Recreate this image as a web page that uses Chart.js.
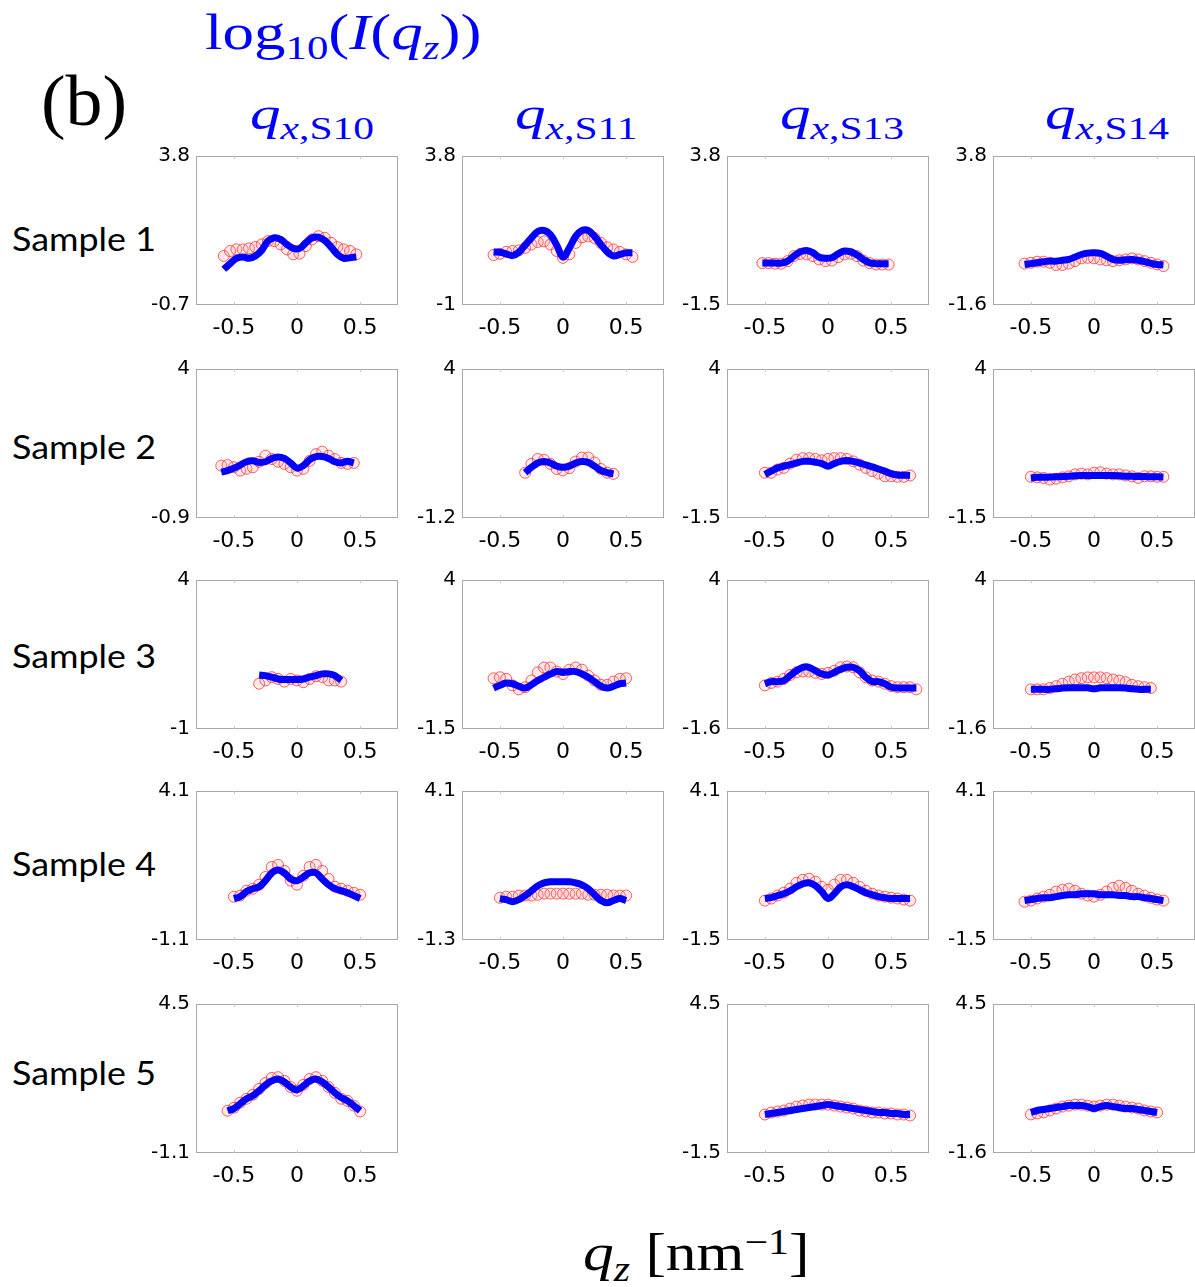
<!DOCTYPE html>
<html><head><meta charset="utf-8">
<script src="https://cdn.jsdelivr.net/npm/chart.js@4.4.0/dist/chart.umd.min.js"></script>
<style>
body{margin:0;width:1195px;height:1287px;background:#fff;position:relative;overflow:hidden;}
.t{position:absolute;white-space:nowrap;font-family:'Liberation Serif','DejaVu Serif',serif;line-height:1;transform-origin:0 0;}
.blue{color:#0000ff;}
.row{position:absolute;font-family:Lato,'Open Sans',sans-serif;font-size:32px;color:#000;white-space:nowrap;line-height:1;transform-origin:0 0;transform:scaleX(1.12);}
.panel{position:absolute;}
.sb{font-size:0.68em;position:relative;top:0.3em;}
.sp{font-size:0.68em;position:relative;top:-0.45em;}
</style></head><body>
<div class="t blue" style="left:205px;top:7px;font-size:50px;transform:scaleX(1.26);">log<span class="sb" style="font-style:normal">10</span>(<i>I</i>(<i>q</i><span class="sb"><i>z</i></span>))</div>
<div class="t" style="left:41px;top:66px;font-size:71px;transform:scaleX(1.04);">(b)</div>
<div class="t blue" style="left:250px;top:90px;font-size:47px;transform:scaleX(1.3);"><i>q</i><span class="sb"><i>x</i>,S10</span></div>
<div class="t blue" style="left:515px;top:90px;font-size:47px;transform:scaleX(1.3);"><i>q</i><span class="sb"><i>x</i>,S11</span></div>
<div class="t blue" style="left:780px;top:90px;font-size:47px;transform:scaleX(1.3);"><i>q</i><span class="sb"><i>x</i>,S13</span></div>
<div class="t blue" style="left:1045px;top:90px;font-size:47px;transform:scaleX(1.3);"><i>q</i><span class="sb"><i>x</i>,S14</span></div>
<div class="row" style="left:12px;top:223px;">Sample 1</div>
<div class="row" style="left:12px;top:431px;">Sample 2</div>
<div class="row" style="left:12px;top:640px;">Sample 3</div>
<div class="row" style="left:12px;top:848px;">Sample 4</div>
<div class="row" style="left:12px;top:1057px;">Sample 5</div>
<div class="t" style="left:583px;top:1226px;font-size:53px;transform:scaleX(1.16);"><i>q</i><span class="sb"><i>z</i></span> [nm<span class="sp">−1</span>]</div>
<script>
// ---- axis tick labels ----
const xTicks = [-0.5, 0, 0.5];
const yTop = [[3.8,3.8,3.8,3.8],[4,4,4,4],[4,4,4,4],[4.1,4.1,4.1,4.1],[4.5,null,4.5,4.5]];
const yBottom = [[-0.7,-1,-1.5,-1.6],[-0.9,-1.2,-1.5,-1.5],[-1,-1.5,-1.6,-1.6],[-1.1,-1.3,-1.5,-1.5],[-1.1,null,-1.5,-1.6]];

// ---- Sample 1 ----
const qz_1_10 = [-0.58,-0.53,-0.48,-0.43,-0.38,-0.33,-0.28,-0.23,-0.18,-0.13,-0.08,-0.03,0.02,0.07,0.12,0.17,0.22,0.27,0.32,0.37,0.42,0.47];
const fit_1_10 = [0.38,0.55,0.71,0.75,0.71,0.78,0.95,1.23,1.33,1.28,1.13,1.01,1.01,1.18,1.33,1.35,1.25,1.05,0.83,0.71,0.73,0.75];
const obs_1_10 = [0.78,0.93,0.98,0.98,1.01,1.05,1.13,1.23,1.23,1.13,0.98,0.83,0.85,1.08,1.28,1.38,1.33,1.18,1.05,0.98,0.93,0.83];
const qz_1_11 = [-0.55,-0.5,-0.45,-0.4,-0.35,-0.3,-0.25,-0.2,-0.15,-0.1,-0.05,0,0.05,0.1,0.15,0.2,0.25,0.3,0.35,0.4,0.45,0.5,0.55];
const fit_1_11 = [0.71,0.70,0.65,0.59,0.70,0.93,1.16,1.37,1.40,1.27,0.93,0.54,0.84,1.21,1.40,1.40,1.21,0.95,0.71,0.58,0.63,0.68,0.68];
const obs_1_11 = [0.61,0.65,0.71,0.74,0.76,0.84,0.95,1.03,1.05,0.95,0.74,0.52,0.63,1.00,1.18,1.21,1.16,1.00,0.86,0.79,0.71,0.63,0.55];
const qz_1_13 = [-0.52,-0.47,-0.42,-0.37,-0.32,-0.27,-0.22,-0.17,-0.12,-0.07,-0.02,0.03,0.08,0.13,0.18,0.23,0.28,0.33,0.38,0.43,0.48];
const fit_1_13 = [-0.01,-0.01,-0.01,-0.01,0.06,0.24,0.39,0.44,0.36,0.20,0.16,0.18,0.32,0.42,0.39,0.28,0.12,0.00,-0.03,-0.03,-0.03];
const obs_1_13 = [-0.01,-0.01,-0.03,-0.03,0.06,0.24,0.32,0.30,0.24,0.12,0.06,0.08,0.20,0.30,0.32,0.24,0.08,-0.01,-0.06,-0.06,-0.06];
const qz_1_14 = [-0.55,-0.5,-0.45,-0.4,-0.35,-0.3,-0.25,-0.2,-0.15,-0.1,-0.05,0,0.05,0.1,0.15,0.2,0.25,0.3,0.35,0.4,0.45,0.5,0.55];
const fit_1_14 = [-0.13,-0.10,-0.07,-0.03,-0.01,-0.01,0.02,0.05,0.14,0.23,0.28,0.29,0.27,0.17,0.05,0.02,0.04,0.05,0.02,-0.03,-0.09,-0.13,-0.15];
const obs_1_14 = [-0.10,-0.07,-0.03,-0.03,-0.07,-0.15,-0.15,-0.10,-0.01,0.09,0.11,0.09,0.05,0.02,-0.01,0.02,0.05,0.09,0.05,-0.01,-0.07,-0.13,-0.19];

// ---- Sample 2 ----
const qz_2_10 = [-0.6,-0.55,-0.5,-0.45,-0.4,-0.35,-0.3,-0.25,-0.2,-0.15,-0.1,-0.05,0,0.05,0.1,0.15,0.2,0.25,0.3,0.35,0.4,0.45];
const fit_2_10 = [0.61,0.66,0.74,0.84,0.95,0.98,0.93,0.95,1.06,1.11,1.06,0.91,0.74,0.82,1.02,1.12,1.12,1.06,0.95,0.91,0.97,0.91];
const obs_2_10 = [0.82,0.84,0.77,0.66,0.72,0.77,0.95,1.15,1.04,0.95,0.88,0.77,0.66,0.72,0.98,1.20,1.28,1.15,1.04,0.91,0.88,0.91];
const qz_2_11 = [-0.3,-0.25,-0.2,-0.15,-0.1,-0.05,0,0.05,0.1,0.15,0.2,0.25,0.3,0.35,0.4];
const fit_2_11 = [0.38,0.57,0.72,0.77,0.72,0.61,0.57,0.61,0.72,0.77,0.74,0.61,0.46,0.38,0.34];
const obs_2_11 = [0.38,0.69,0.86,0.83,0.69,0.51,0.46,0.54,0.77,0.91,0.91,0.74,0.51,0.38,0.34];
const qz_2_13 = [-0.5,-0.45,-0.4,-0.35,-0.3,-0.25,-0.2,-0.15,-0.1,-0.05,0,0.05,0.1,0.15,0.2,0.25,0.3,0.35,0.4,0.45,0.5,0.55,0.6,0.65];
const fit_2_13 = [0.11,0.23,0.35,0.41,0.47,0.53,0.59,0.59,0.56,0.51,0.41,0.51,0.59,0.62,0.59,0.53,0.46,0.39,0.31,0.23,0.14,0.09,0.08,0.07];
const obs_2_13 = [0.17,0.17,0.29,0.35,0.51,0.65,0.71,0.71,0.68,0.63,0.68,0.71,0.71,0.68,0.59,0.47,0.35,0.23,0.14,0.04,0.04,0.02,0.02,0.07];
const qz_2_14 = [-0.5,-0.45,-0.4,-0.35,-0.3,-0.25,-0.2,-0.15,-0.1,-0.05,0,0.05,0.1,0.15,0.2,0.25,0.3,0.35,0.4,0.45,0.5,0.55];
const fit_2_14 = [-0.02,0.00,0.00,0.01,0.02,0.03,0.04,0.06,0.07,0.07,0.07,0.07,0.07,0.07,0.06,0.04,0.04,0.03,0.03,0.02,0.02,0.01];
const obs_2_14 = [0.02,0.00,-0.02,-0.08,-0.05,0.00,0.04,0.11,0.14,0.11,0.17,0.19,0.14,0.11,0.11,0.07,0.04,-0.02,0.04,0.04,0.02,0.02];

// ---- Sample 3 ----
const qz_3_10 = [-0.3,-0.25,-0.2,-0.15,-0.1,-0.05,0,0.05,0.1,0.15,0.2,0.25,0.3,0.35];
const fit_3_10 = [0.81,0.79,0.74,0.68,0.66,0.66,0.66,0.68,0.74,0.79,0.85,0.85,0.79,0.63];
const obs_3_10 = [0.52,0.63,0.74,0.68,0.59,0.68,0.63,0.57,0.68,0.77,0.74,0.63,0.63,0.59];
const qz_3_11 = [-0.55,-0.5,-0.45,-0.4,-0.35,-0.3,-0.25,-0.2,-0.15,-0.1,-0.05,0,0.05,0.1,0.15,0.2,0.25,0.3,0.35,0.4,0.45,0.5];
const fit_3_11 = [0.01,0.11,0.20,0.17,0.08,0.01,0.13,0.29,0.41,0.53,0.62,0.59,0.62,0.62,0.53,0.41,0.25,0.08,0.01,0.08,0.17,0.20];
const obs_3_11 = [0.37,0.41,0.35,0.11,-0.04,0.04,0.29,0.59,0.77,0.77,0.62,0.53,0.69,0.77,0.69,0.47,0.29,0.13,0.13,0.25,0.35,0.37];
const qz_3_13 = [-0.5,-0.45,-0.4,-0.35,-0.3,-0.25,-0.2,-0.15,-0.1,-0.05,0,0.05,0.1,0.15,0.2,0.25,0.3,0.35,0.4,0.45,0.5,0.55,0.6,0.65,0.7];
const fit_3_13 = [0.10,0.18,0.18,0.22,0.41,0.59,0.72,0.72,0.59,0.47,0.43,0.53,0.65,0.72,0.72,0.59,0.34,0.18,0.18,0.10,-0.03,-0.06,-0.06,-0.06,-0.06];
const obs_3_13 = [0.04,0.13,0.18,0.28,0.43,0.53,0.56,0.56,0.51,0.47,0.51,0.59,0.72,0.75,0.72,0.53,0.34,0.22,0.18,0.10,0.01,-0.03,-0.03,-0.03,-0.11];
const qz_3_14 = [-0.5,-0.45,-0.4,-0.35,-0.3,-0.25,-0.2,-0.15,-0.1,-0.05,0,0.05,0.1,0.15,0.2,0.25,0.3,0.35,0.4,0.45];
const fit_3_14 = [-0.11,-0.11,-0.11,-0.11,-0.09,-0.06,-0.05,-0.05,-0.05,-0.05,-0.09,-0.05,-0.05,-0.05,-0.05,-0.06,-0.09,-0.11,-0.11,-0.11];
const obs_3_14 = [-0.11,-0.11,-0.11,-0.06,0.01,0.10,0.18,0.26,0.31,0.34,0.34,0.34,0.31,0.26,0.22,0.16,0.06,0.01,-0.03,-0.06];

// ---- Sample 4 ----
const qz_4_10 = [-0.5,-0.45,-0.4,-0.35,-0.3,-0.25,-0.2,-0.15,-0.1,-0.05,0,0.05,0.1,0.15,0.2,0.25,0.3,0.35,0.4,0.45,0.5];
const fit_4_10 = [0.35,0.41,0.59,0.69,0.76,0.97,1.24,1.34,1.24,1.03,0.97,1.10,1.24,1.24,1.03,0.83,0.69,0.62,0.55,0.45,0.35];
const obs_4_10 = [0.41,0.45,0.62,0.69,0.83,1.10,1.45,1.52,1.31,0.97,0.83,1.14,1.45,1.52,1.31,1.03,0.76,0.69,0.62,0.55,0.48];
const qz_4_11 = [-0.5,-0.45,-0.4,-0.35,-0.3,-0.25,-0.2,-0.15,-0.1,-0.05,0,0.05,0.1,0.15,0.2,0.25,0.3,0.35,0.4,0.45,0.5];
const fit_4_11 = [0.20,0.16,0.09,0.16,0.31,0.48,0.66,0.77,0.81,0.81,0.81,0.81,0.77,0.70,0.56,0.34,0.13,0.05,0.13,0.20,0.13];
const obs_4_11 = [0.23,0.27,0.27,0.31,0.31,0.31,0.34,0.38,0.38,0.38,0.38,0.38,0.38,0.38,0.34,0.34,0.34,0.34,0.31,0.31,0.31];
const qz_4_13 = [-0.5,-0.45,-0.4,-0.35,-0.3,-0.25,-0.2,-0.15,-0.1,-0.05,0,0.05,0.1,0.15,0.2,0.25,0.3,0.35,0.4,0.45,0.5,0.55,0.6,0.65];
const fit_4_13 = [0.06,0.09,0.17,0.24,0.35,0.50,0.61,0.65,0.54,0.32,0.06,0.24,0.50,0.58,0.50,0.39,0.28,0.20,0.13,0.09,0.06,0.06,0.06,0.06];
const obs_4_13 = [-0.02,0.06,0.17,0.28,0.43,0.65,0.76,0.80,0.69,0.50,0.39,0.58,0.76,0.76,0.65,0.50,0.35,0.24,0.17,0.13,0.09,0.06,0.02,-0.02];
const qz_4_14 = [-0.55,-0.5,-0.45,-0.4,-0.35,-0.3,-0.25,-0.2,-0.15,-0.1,-0.05,0,0.05,0.1,0.15,0.2,0.25,0.3,0.35,0.4,0.45,0.5,0.55];
const fit_4_14 = [-0.02,0.02,0.06,0.09,0.09,0.13,0.17,0.20,0.20,0.24,0.24,0.24,0.20,0.20,0.20,0.17,0.17,0.13,0.13,0.09,0.06,0.02,-0.02];
const obs_4_14 = [-0.06,-0.02,0.06,0.13,0.20,0.32,0.39,0.43,0.35,0.24,0.17,0.13,0.20,0.32,0.46,0.54,0.46,0.35,0.24,0.17,0.09,0.02,-0.02];

// ---- Sample 5 ----
const qz_5_10 = [-0.55,-0.5,-0.45,-0.4,-0.35,-0.3,-0.25,-0.2,-0.15,-0.1,-0.05,0,0.05,0.1,0.15,0.2,0.25,0.3,0.35,0.4,0.45,0.5];
const fit_5_10 = [0.49,0.57,0.75,0.94,1.05,1.24,1.46,1.61,1.68,1.57,1.38,1.27,1.42,1.61,1.68,1.57,1.38,1.16,0.98,0.86,0.68,0.49];
const obs_5_10 = [0.49,0.60,0.79,0.94,1.09,1.31,1.53,1.72,1.75,1.61,1.38,1.24,1.46,1.68,1.75,1.61,1.38,1.16,0.94,0.86,0.68,0.46];
const qz_5_13 = [-0.5,-0.45,-0.4,-0.35,-0.3,-0.25,-0.2,-0.15,-0.1,-0.05,0,0.05,0.1,0.15,0.2,0.25,0.3,0.35,0.4,0.45,0.5,0.55,0.6,0.65];
const fit_5_13 = [0.05,0.09,0.13,0.17,0.21,0.25,0.29,0.33,0.37,0.41,0.45,0.41,0.37,0.33,0.29,0.25,0.21,0.17,0.13,0.13,0.09,0.09,0.05,0.05];
const obs_5_13 = [0.05,0.13,0.17,0.21,0.29,0.37,0.41,0.45,0.45,0.45,0.45,0.41,0.37,0.33,0.29,0.21,0.17,0.13,0.13,0.09,0.09,0.05,0.05,0.01];
const qz_5_14 = [-0.5,-0.45,-0.4,-0.35,-0.3,-0.25,-0.2,-0.15,-0.1,-0.05,0,0.05,0.1,0.15,0.2,0.25,0.3,0.35,0.4,0.45,0.5];
const fit_5_14 = [0.06,0.14,0.18,0.22,0.26,0.30,0.34,0.34,0.34,0.30,0.22,0.30,0.34,0.30,0.26,0.22,0.22,0.18,0.14,0.10,0.06];
const obs_5_14 = [-0.02,0.02,0.06,0.14,0.22,0.30,0.34,0.38,0.38,0.34,0.30,0.34,0.38,0.38,0.34,0.30,0.26,0.22,0.14,0.10,0.06];

// ---- layout (not data) ----
const colLeft = [196, 462, 727, 993];
const rowTop = [154, 367, 578, 789, 1002];
const boxW = 202, boxH = 151;
const tickFont = "'DejaVu Sans', Verdana, sans-serif";

const frame = {
  id: 'frame',
  afterDatasetsDraw(chart) {
    const {ctx, chartArea: a, scales} = chart;
    ctx.save();
    ctx.strokeStyle = '#a8a8a8';
    ctx.lineWidth = 1;
    ctx.strokeRect(Math.round(a.left) + 0.5, Math.round(a.top) + 0.5, Math.round(a.right - a.left) - 1, Math.round(a.bottom - a.top) - 1);
    ctx.strokeStyle = '#c8c8c8';
    xTicks.forEach(v => {
      const x = Math.round(scales.x.getPixelForValue(v)) + 0.5;
      ctx.beginPath();
      ctx.moveTo(x, a.top); ctx.lineTo(x, a.top + 3);
      ctx.moveTo(x, a.bottom); ctx.lineTo(x, a.bottom - 3);
      ctx.stroke();
    });
    ctx.restore();
  }
};

function makePanel(r, c, qz, fit, obs) {
  const padL = 72, padT = 16, padR = 10, padB = 48;
  const W = boxW + padL + padR, H = boxH + padT + padB;
  const div = document.createElement('div');
  div.className = 'panel';
  div.style.left = (colLeft[c] - padL) + 'px';
  div.style.top = (rowTop[r] - padT) + 'px';
  div.style.width = W + 'px'; div.style.height = H + 'px';
  const cv = document.createElement('canvas');
  cv.width = W; cv.height = H;
  cv.style.width = W + 'px'; cv.style.height = H + 'px';
  div.appendChild(cv);
  document.body.appendChild(div);
  const lo = yBottom[r][c], hi = yTop[r][c];
  new Chart(cv, {
    type: 'scatter',
    data: { datasets: [
      { data: qz.map((x, i) => ({x, y: fit[i]})), showLine: true, borderColor: '#0000ff', borderWidth: 7,
        pointRadius: 0, tension: 0.35, borderCapStyle: 'butt', borderJoinStyle: 'round', order: 0 },
      { data: qz.map((x, i) => ({x, y: obs[i]})), showLine: false, pointRadius: 5.5, pointBorderWidth: 1,
        borderColor: 'rgba(255,30,30,0.7)', backgroundColor: 'rgba(255,140,140,0.18)', order: 1 }
    ]},
    options: {
      responsive: false, animation: false, events: [],
      plugins: { legend: {display: false}, tooltip: {enabled: false} },
      layout: { padding: {top: padT, right: padR, left: 0, bottom: 0} },
      scales: {
        x: { type: 'linear', min: -0.8, max: 0.8,
          afterBuildTicks: s => { s.ticks = xTicks.map(v => ({value: v})); },
          afterFit: s => { s.height = padB; },
          grid: {display: false, drawTicks: false}, border: {display: false},
          ticks: {padding: 10, color: '#000', font: {family: tickFont, size: 22},
            callback: v => String(v), maxRotation: 0, autoSkip: false} },
        y: { min: lo, max: hi,
          afterBuildTicks: s => { s.ticks = [{value: lo}, {value: hi}]; },
          afterFit: s => { s.width = padL; },
          grid: {display: false, drawTicks: false}, border: {display: false},
          ticks: {padding: 6, color: '#000', font: {family: tickFont, size: 20},
            callback: v => String(v), autoSkip: false} }
      }
    },
    plugins: [frame]
  });
}

makePanel(0,0,qz_1_10,fit_1_10,obs_1_10);
makePanel(0,1,qz_1_11,fit_1_11,obs_1_11);
makePanel(0,2,qz_1_13,fit_1_13,obs_1_13);
makePanel(0,3,qz_1_14,fit_1_14,obs_1_14);
makePanel(1,0,qz_2_10,fit_2_10,obs_2_10);
makePanel(1,1,qz_2_11,fit_2_11,obs_2_11);
makePanel(1,2,qz_2_13,fit_2_13,obs_2_13);
makePanel(1,3,qz_2_14,fit_2_14,obs_2_14);
makePanel(2,0,qz_3_10,fit_3_10,obs_3_10);
makePanel(2,1,qz_3_11,fit_3_11,obs_3_11);
makePanel(2,2,qz_3_13,fit_3_13,obs_3_13);
makePanel(2,3,qz_3_14,fit_3_14,obs_3_14);
makePanel(3,0,qz_4_10,fit_4_10,obs_4_10);
makePanel(3,1,qz_4_11,fit_4_11,obs_4_11);
makePanel(3,2,qz_4_13,fit_4_13,obs_4_13);
makePanel(3,3,qz_4_14,fit_4_14,obs_4_14);
makePanel(4,0,qz_5_10,fit_5_10,obs_5_10);
makePanel(4,2,qz_5_13,fit_5_13,obs_5_13);
makePanel(4,3,qz_5_14,fit_5_14,obs_5_14);
</script>
</body></html>
